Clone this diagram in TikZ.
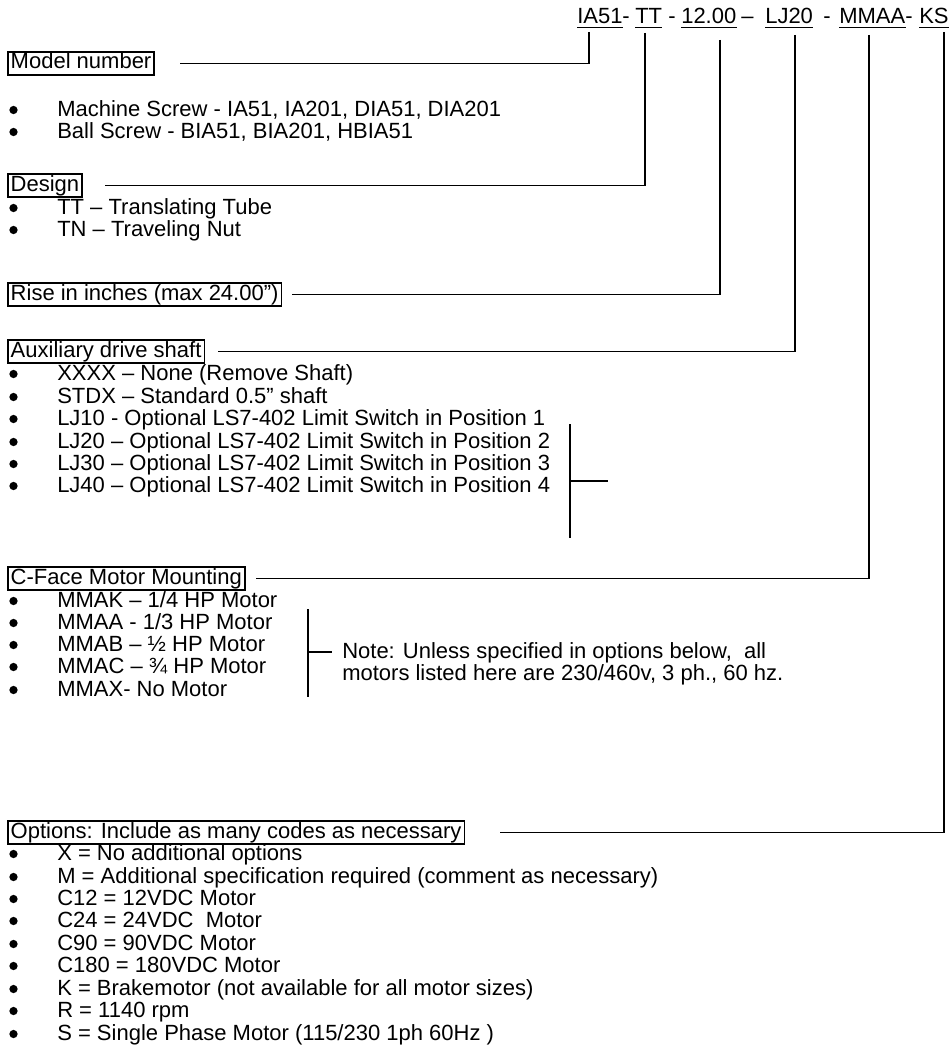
\documentclass[tikz,border=0pt]{standalone}
\usepackage{fontspec}
\setmainfont{Liberation Sans}
\usetikzlibrary{calc}
\newcommand\bul[3]{%
  \node[dot] (bl#1) at (13.5,{#2-6}) {};
  \node[txt] (bt#1) at (57,#2) {#3};}
\begin{document}
\begin{tikzpicture}[x=0.75pt,y=-0.75pt,
  every node/.style={inner sep=0pt,font=\fontsize{16.5}{19}\selectfont},
  txt/.style={anchor=base west},
  dot/.style={circle,fill=black,minimum size=6.2pt},
  hdr/.style={anchor=base west,draw,line width=1.2pt,inner xsep=2.2pt,inner ysep=0.8pt,text height=12pt,text depth=3.6pt},
  conn/.style={line width=1.2pt},
  uline/.style={line width=1.2pt}]
\useasboundingbox (0,0) rectangle (951,1049);
% top code
\node[txt] (ia) at (577,24) {IA51};
\node[txt] (s1) at (622,24) {-};
\node[txt] (tt) at (635,24) {TT};
\node[txt] (s2) at (668,24) {-};
\node[txt] (rs) at (681,24) {12.00};
\node[txt] (s3) at (741,24) {–};
\node[txt] (lj) at (765,24) {LJ20};
\node[txt] (s4) at (823,24) {-};
\node[txt] (mm) at (839,24) {MMAA};
\node[txt] (s5) at (905,24) {-};
\node[txt] (ks) at (919,24) {KS};
\foreach \n in {ia,tt,rs,lj,mm,ks}
  \draw[uline] ($(\n.base west)+(0,3.5)$) -- ($(\n.base east)+(0,3.5)$);
% headers
\node[hdr] (model) at (7,69) {Model number};
\node[hdr] (design) at (7,191) {Design};
\node[hdr] (rise) at (7,300) {Rise in inches (max 24.00”)};
\node[hdr] (aux) at (7,357) {Auxiliary drive shaft};
\node[hdr] (cface) at (7,584) {C-Face Motor Mounting};
\node[hdr] (opts) at (7,838) {Options: Include as many codes as necessary};
% bullets
\bul{1}{116}{Machine Screw - IA51, IA201, DIA51, DIA201}
\bul{2}{138}{Ball Screw - BIA51, BIA201, HBIA51}
\bul{3}{214}{TT – Translating Tube}
\bul{4}{236}{TN – Traveling Nut}
\bul{5}{380}{XXXX – None (Remove Shaft)}
\bul{6}{403}{STDX – Standard 0.5” shaft}
\bul{7}{425}{LJ10 -  Optional LS7-402 Limit Switch in Position 1}
\bul{8}{448}{LJ20 – Optional LS7-402 Limit Switch in Position 2}
\bul{9}{470}{LJ30 – Optional LS7-402 Limit Switch in Position 3}
\bul{10}{492}{LJ40 – Optional LS7-402 Limit Switch in Position 4}
\bul{11}{607}{MMAK – 1/4 HP Motor}
\bul{12}{629}{MMAA - 1/3 HP Motor}
\bul{13}{651}{MMAB – ½ HP Motor}
\bul{14}{673}{MMAC – ¾ HP Motor}
\bul{15}{696}{MMAX- No Motor}
\bul{16}{860}{X = No additional options}
\bul{17}{883}{M = Additional specification required (comment as necessary)}
\bul{18}{905}{C12 = 12VDC Motor}
\bul{19}{927}{C24 = 24VDC\ \ Motor}
\bul{20}{950}{C90 = 90VDC Motor}
\bul{21}{972}{C180 = 180VDC Motor}
\bul{22}{995}{K = Brakemotor (not available for all motor sizes)}
\bul{23}{1017}{R = 1140 rpm}
\bul{24}{1040}{S = Single Phase Motor (115/230 1ph 60Hz )}
% note
\node[txt] (note1) at (342,658) {Note: Unless specified in options below,\ \ all};
\node[txt] (note2) at (342,680) {motors listed here are 230/460v, 3 ph., 60 hz.};
% connectors
\draw[conn] ($(ia.base west)+(12,8)$) |- ($(model.east)+(25,0)$);
\draw[conn] ($(tt.base west)+(10,9)$) |- ($(design.east)+(22,0)$);
\draw[conn] ($(rs.base west)+(39,16)$) |- ($(rise.east)+(10,0)$);
\draw[conn] ($(lj.base west)+(30,11)$) |- ($(aux.east)+(13,0)$);
\draw[conn] ($(mm.base west)+(30,11)$) |- ($(cface.east)+(10,0)$);
\draw[conn] ($(ks.base west)+(25,8)$) |- ($(opts.east)+(35,0)$);
% brackets
\coordinate (lja) at (570,424);
\coordinate (ljb) at (570,538);
\coordinate (ljc) at (608,481);
\draw[conn] (lja) -- (ljb);
\draw[conn] (lja |- ljc) -- (ljc);
\coordinate (nta) at (308,609);
\coordinate (ntb) at (308,697);
\coordinate (ntc) at (332,652);
\draw[conn] (nta) -- (ntb);
\draw[conn] (nta |- ntc) -- (ntc);
\end{tikzpicture}
\end{document}
